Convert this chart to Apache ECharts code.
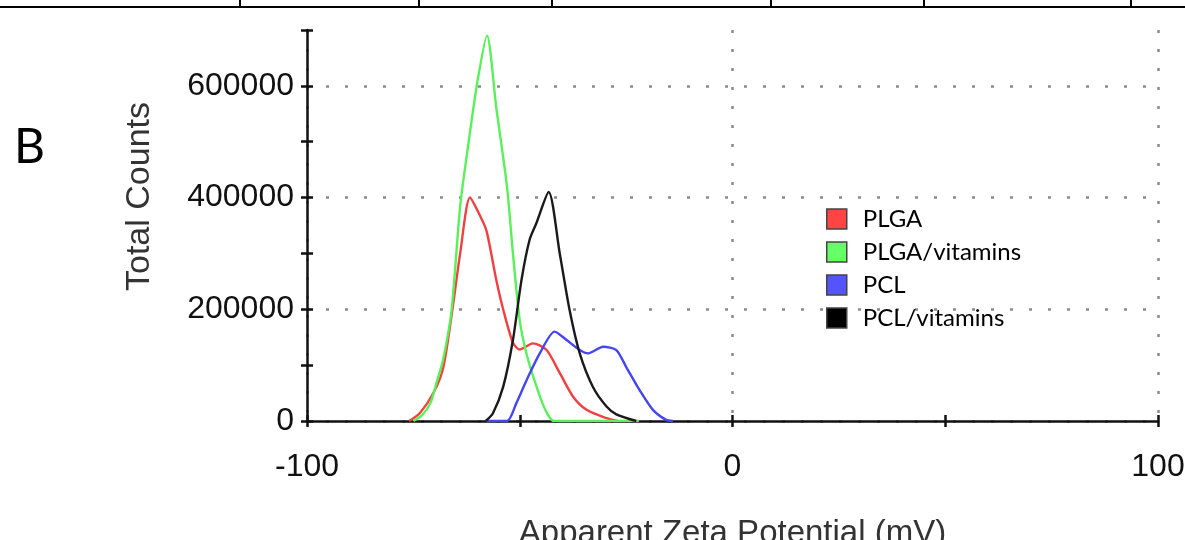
<!DOCTYPE html>
<html>
<head>
<meta charset="utf-8">
<script src="https://cdn.jsdelivr.net/npm/echarts@6/dist/echarts.min.js"></script>
<style>
    html, body { margin: 0; padding: 0; background: #fff; }
    #chart { width: 1185px; height: 540px; }
</style>
</head>
<body>
<div id="chart"></div>
<script>
// series names, in legend order
const seriesNames = ['PLGA', 'PLGA/vitamins', 'PCL', 'PCL/vitamins']

// zeta potential (mV) and total counts
const plgaX = [-76, -73.5, -70.3, -68, -66, -64, -61.7, -59.5, -57.8, -55.5, -53.9, -51.6, -50, -46.9, -43.7, -40.6, -37.5, -34.3, -29.6, -27]
const plgaY = [0, 14000, 50000, 95000, 190000, 300000, 400000, 370000, 340000, 252000, 200000, 140000, 128000, 139000, 127000, 86000, 44000, 20000, 5000, 0]

const plgaVitX = [-75, -73, -71, -69.5, -68, -66, -64, -62, -60, -57.7, -55.5, -53, -51.6, -50, -48.4, -46, -44, -42, -22]
const plgaVitY = [0, 10000, 32000, 70000, 110000, 200000, 385000, 500000, 605000, 690000, 560000, 420000, 300000, 180000, 120000, 60000, 20000, 0, 0]

const pclX = [-58, -53, -50.8, -48.4, -45.3, -41.8, -39, -35.9, -33.9, -30.4, -27.3, -25, -21.8, -18.7, -15.6, -14]
const pclY = [0, 0, 32000, 73000, 121000, 160000, 145000, 127000, 121000, 133000, 127000, 97000, 55000, 20000, 2000, 0]

const pclVitX = [-58, -56.3, -53.9, -51.6, -49.6, -47.7, -46.1, -43.2, -40.6, -38.3, -35.9, -32.8, -29.6, -27.3, -22.6]
const pclVitY = [0, 14000, 61000, 145000, 252000, 324000, 354000, 410000, 300000, 199000, 121000, 61000, 26000, 12000, 0]

const seriesColors = ['#f24040', '#5af05a', '#4545f2', '#1a1a1a']
const legendColors = ['#ff4444', '#66ff66', '#5555ff', '#000000']

const zip = (xs, ys) => xs.map((x, i) => [x, ys[i]])
const seriesData = [
    zip(plgaX, plgaY),
    zip(plgaVitX, plgaVitY),
    zip(pclX, pclY),
    zip(pclVitX, pclVitY)
]

const AXIS_FONT = '"Liberation Sans", Arial, sans-serif'
const DOT_LINE = { width: 2.5, type: [3, 16], color: ['#8a8a8a', 'transparent'] }

const chart = echarts.init(document.getElementById('chart'))

const option = {
    animation: false,
    grid: { left: 307, right: 27, top: 30, bottom: 119, outerBoundsMode: 'none' },
    legend: {
        orient: 'vertical',
        left: 821,
        top: 202,
        icon: 'rect',
        itemWidth: 20,
        itemHeight: 20,
        itemGap: 9,
        itemStyle: { borderColor: '#444', borderWidth: 1.5 },
        textStyle: {
            fontFamily: 'Lato, "Open Sans", sans-serif',
            fontSize: 24,
            lineHeight: 20,
            color: '#000',
            padding: [0, 0, 0, 11]
        },
        data: seriesNames.map((name, i) => ({ name: name, itemStyle: { color: legendColors[i] } }))
    },
    xAxis: [{
        type: 'value',
        min: -100,
        max: 100,
        interval: 50,
        name: 'Apparent Zeta Potential (mV)',
        nameLocation: 'middle',
        nameGap: 96,
        nameTextStyle: { fontFamily: AXIS_FONT, fontSize: 33, color: '#333' },
        axisLine: { onZero: false, lineStyle: { color: '#111', width: 2.5 } },
        axisTick: { length: 6, lineStyle: { color: '#111', width: 2.5 } },
        axisLabel: {
            margin: 30,
            fontFamily: AXIS_FONT,
            fontSize: 32,
            color: '#111',
            formatter: v => (v % 100 === 0 ? String(v) : '')
        },
        splitLine: { show: true, lineStyle: DOT_LINE }
    }, {
        // second axis, only for the inner half of the crossing ticks
        type: 'value',
        position: 'bottom',
        min: -100,
        max: 100,
        interval: 50,
        axisLine: { show: false, onZero: false },
        axisTick: { inside: true, length: 6, lineStyle: { color: '#111', width: 2.5 } },
        axisLabel: { show: false },
        splitLine: { show: false }
    }],
    yAxis: [{
        type: 'value',
        min: 0,
        max: 700000,
        interval: 100000,
        name: 'Total Counts',
        nameLocation: 'middle',
        nameRotate: 90,
        nameGap: 150,
        nameTextStyle: { fontFamily: AXIS_FONT, fontSize: 34, color: '#333', padding: [0, 0, 0, 58] },
        axisLine: { show: true, onZero: false, lineStyle: { color: '#111', width: 2.5 } },
        axisTick: { show: true, length: 6, lineStyle: { color: '#111', width: 2.5 } },
        axisLabel: {
            margin: 13,
            fontFamily: AXIS_FONT,
            fontSize: 32,
            color: '#111',
            formatter: v => (v % 200000 === 0 ? String(v) : '')
        },
        splitLine: { show: true, lineStyle: DOT_LINE }
    }, {
        type: 'value',
        position: 'left',
        min: 0,
        max: 700000,
        interval: 100000,
        axisLine: { show: false, onZero: false },
        axisTick: { show: true, inside: true, length: 6, lineStyle: { color: '#111', width: 2.5 } },
        axisLabel: { show: false },
        splitLine: { show: false }
    }],
    series: seriesNames.map((name, i) => ({
        name: name,
        type: 'line',
        data: seriesData[i],
        showSymbol: false,
        smooth: 0.25,
        color: seriesColors[i],
        lineStyle: { width: 2.4, color: seriesColors[i] },
        z: 3
    })),
    graphic: [
        // table borders at the top of the figure
        { type: 'line', shape: { x1: 0, y1: 7, x2: 1185, y2: 7 }, style: { stroke: '#000', lineWidth: 2 } },
        { type: 'line', shape: { x1: 240, y1: 0, x2: 240, y2: 7 }, style: { stroke: '#000', lineWidth: 2 } },
        { type: 'line', shape: { x1: 419, y1: 0, x2: 419, y2: 7 }, style: { stroke: '#000', lineWidth: 2 } },
        { type: 'line', shape: { x1: 552, y1: 0, x2: 552, y2: 7 }, style: { stroke: '#000', lineWidth: 2 } },
        { type: 'line', shape: { x1: 771, y1: 0, x2: 771, y2: 7 }, style: { stroke: '#000', lineWidth: 2 } },
        { type: 'line', shape: { x1: 924, y1: 0, x2: 924, y2: 7 }, style: { stroke: '#000', lineWidth: 2 } },
        { type: 'line', shape: { x1: 1131, y1: 0, x2: 1131, y2: 7 }, style: { stroke: '#000', lineWidth: 2 } },
        {
            type: 'text',
            left: 14,
            top: 124,
            style: { text: 'B', font: '48px Lato, "Open Sans", sans-serif', fill: '#000' }
        }
    ]
}

chart.setOption(option)
</script>
</body>
</html>
